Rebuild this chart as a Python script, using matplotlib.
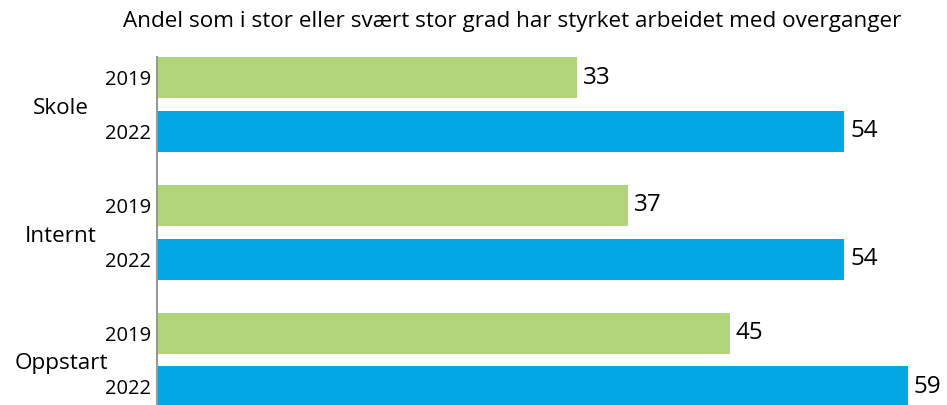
import matplotlib.pyplot as plt
import numpy as np

plt.rcParams["font.family"] = ["Open Sans", "DejaVu Sans"]

groups = ["Skole", "Internt", "Oppstart"]
years = ["2019", "2022"]
values_2019 = [33, 37, 45]
values_2022 = [54, 54, 59]
green = "#b1d57a"
blue = "#00a9e3"

W, H = 947, 405
fig = plt.figure(figsize=(W / 100, H / 100), dpi=100)

# axes placed in pixel terms
left_px, right_px = 157, 946
top_px, bottom_px = 57, 405
ax = fig.add_axes([left_px / W, 1 - bottom_px / H,
                   (right_px - left_px) / W, (bottom_px - top_px) / H])

centers = np.arange(len(groups))
off = 0.21
h = 0.32
ax.barh(centers - off, values_2019, height=h, color=green)
ax.barh(centers + off, values_2022, height=h, color=blue)

xmax = (right_px - left_px) / 12.73
ax.set_xlim(0, xmax)
ax.set_ylim(2 + (bottom_px - 360) / 128, -(104.5 - top_px) / 128)

for c, v in zip(centers, values_2019):
    ax.text(v + 0.45, c - off, str(v), va="center", ha="left", fontsize=17.5)
for c, v in zip(centers, values_2022):
    ax.text(v + 0.45, c + off, str(v), va="center", ha="left", fontsize=17.5)

ticks = np.concatenate([centers - off, centers + off])
ax.set_yticks(ticks)
ax.set_yticklabels([years[0]] * 3 + [years[1]] * 3, fontsize=14.5)
ax.tick_params(axis="y", length=0, pad=4)
ax.set_xticks([])

tr = ax.get_yaxis_transform()
axw = right_px - left_px
for c, g in zip(centers, groups):
    ax.text((61 - left_px) / axw, c + 0.03, g, transform=tr,
            ha="center", va="center", fontsize=16.2)

for s in ["top", "right", "bottom"]:
    ax.spines[s].set_visible(False)
ax.spines["left"].set_color("#999999")
ax.spines["left"].set_linewidth(1.5)

fig.text(512 / W, 1 - 22 / H,
         "Andel som i stor eller svært stor grad har styrket arbeidet med overganger",
         ha="center", va="center", fontsize=16.2)

fig.savefig("out.png", dpi=100)
